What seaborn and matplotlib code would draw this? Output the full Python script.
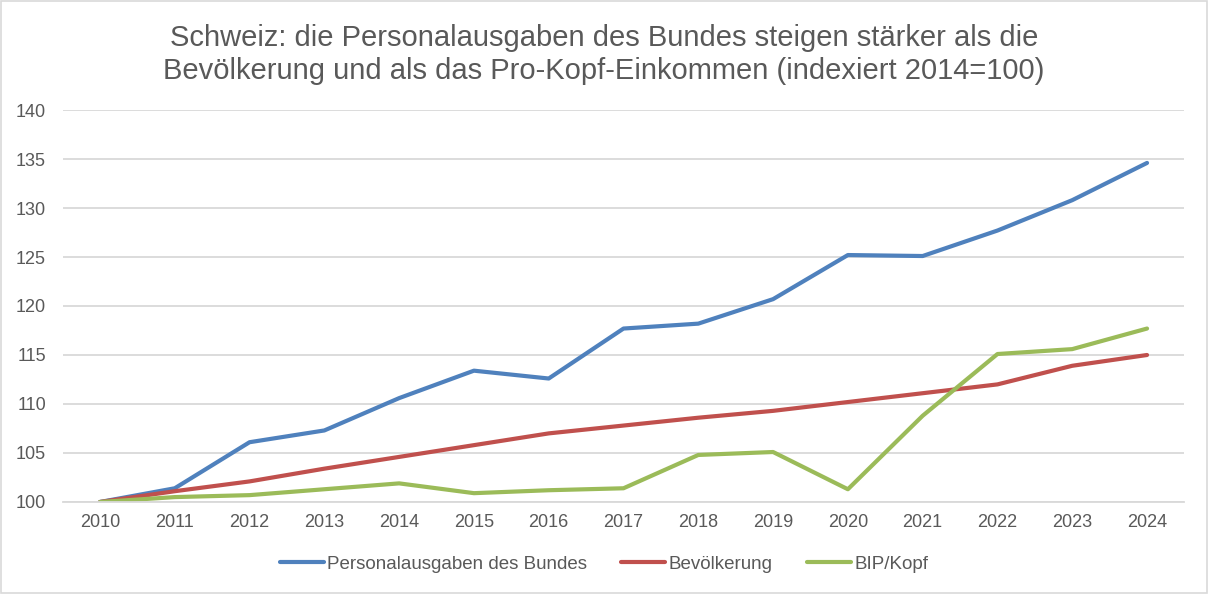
import matplotlib
matplotlib.use("Agg")
import matplotlib.pyplot as plt
import seaborn as sns
import pandas as pd
from matplotlib.lines import Line2D

years = list(range(2010, 2025))
personal = [100, 101.4, 106.1, 107.3, 110.6, 113.4, 112.6, 117.7, 118.2, 120.7, 125.2, 125.1, 127.7, 130.8, 134.6]
bevoelkerung = [100, 101.1, 102.1, 103.4, 104.6, 105.8, 107.0, 107.8, 108.6, 109.3, 110.2, 111.1, 112.0, 113.9, 115.0]
bip_kopf = [100, 100.5, 100.7, 101.3, 101.9, 100.9, 101.2, 101.4, 104.8, 105.1, 101.3, 108.8, 115.1, 115.6, 117.7]
series_names = ["Personalausgaben des Bundes", "Bevölkerung", "BIP/Kopf"]
colors = ["#4F81BD", "#C0504D", "#9BBB59"]
title = "Schweiz: die Personalausgaben des Bundes steigen stärker als die\nBevölkerung und als das Pro-Kopf-Einkommen (indexiert 2014=100)"
yticks = [100, 105, 110, 115, 120, 125, 130, 135, 140]

df = pd.DataFrame({"Jahr": years * 3,
                   "Wert": personal + bevoelkerung + bip_kopf,
                   "Serie": [series_names[0]] * 15 + [series_names[1]] * 15 + [series_names[2]] * 15})

sns.set_theme(style="white")
plt.rcParams['font.family'] = ['Liberation Sans', 'DejaVu Sans']

fig = plt.figure(figsize=(12.08, 5.94), dpi=100)
ax = fig.add_axes([0.0518, 0.1549, 0.9287, 0.6599])
sns.lineplot(data=df, x="Jahr", y="Wert", hue="Serie", palette=colors, linewidth=3.0,
             ax=ax, legend=False, solid_capstyle="round")

ax.set_xlim(2009.5, 2024.5)
ax.set_ylim(100, 140)
ax.set_yticks(yticks)
ax.set_xticks(years)
ax.set_xticklabels([str(y) for y in years])
ax.grid(axis="y", color="#D9D9D9", linewidth=1.3)
ax.set_axisbelow(True)
for s in ["top", "right", "left"]:
    ax.spines[s].set_visible(False)
ax.spines["bottom"].set_color("#D9D9D9")
ax.spines["bottom"].set_linewidth(1.3)
ax.tick_params(axis="both", labelsize=13, colors="#595959", length=0)
ax.tick_params(axis="x", pad=9)
ax.tick_params(axis="y", pad=12)
ax.set_xlabel("")
ax.set_ylabel("")

fig.text(0.5, 0.908, title, ha="center", va="center", fontsize=21, color="#595959", linespacing=1.22)

handles = [Line2D([0], [0], color=c, lw=3, solid_capstyle="round") for c in colors]
fig.legend(handles, series_names, loc="center", bbox_to_anchor=(0.5, 0.05), ncol=3, frameon=False,
           fontsize=13.5, labelcolor="#595959", handlelength=2.35, handletextpad=0.2, columnspacing=1.8)

border = plt.Rectangle((0.001, 0.001), 0.998, 0.998, transform=fig.transFigure, fill=False,
                       edgecolor="#D9D9D9", linewidth=1.2)
fig.add_artist(border)

fig.savefig("out.png", dpi=100)
